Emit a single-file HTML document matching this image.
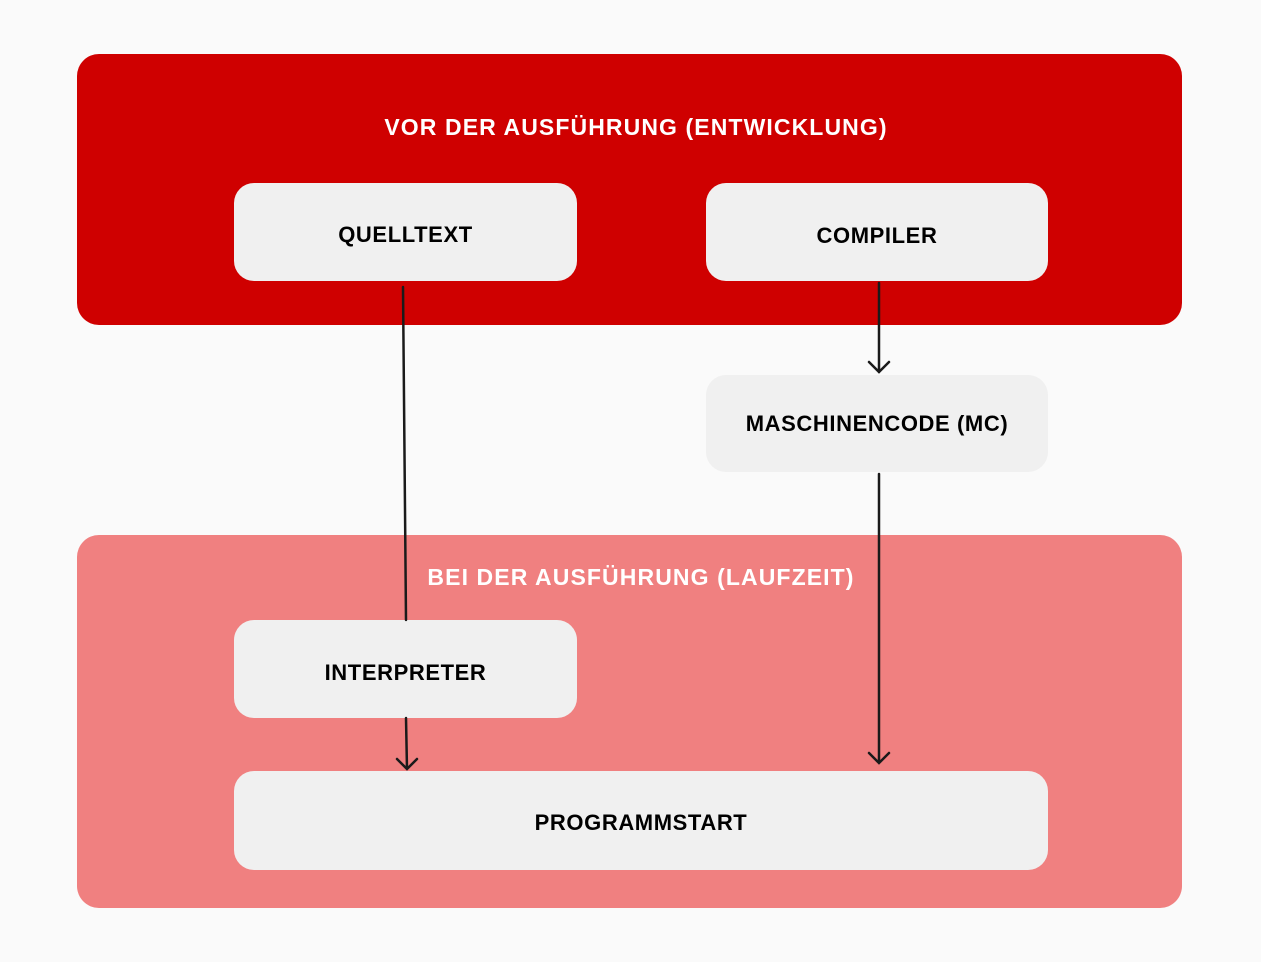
<!DOCTYPE html>
<html><head><meta charset="utf-8"><style>
html,body{margin:0;padding:0;background:#fafafa;}
body{width:1261px;height:962px;position:relative;overflow:hidden;font-family:"Liberation Sans",Arial,sans-serif;font-weight:bold;}
.c{position:absolute;border-radius:22px;}
.b{position:absolute;background:#f0f0f0;border-radius:20px;display:flex;align-items:center;justify-content:center;font-size:22px;color:#000;letter-spacing:0.6px;box-sizing:border-box;padding-top:6px;}
.t{position:absolute;left:0;width:100%;text-align:center;color:#fff;font-size:23px;letter-spacing:1.1px;}
svg{position:absolute;left:0;top:0;}
</style></head><body>
<div class="c" style="left:77px;top:54px;width:1105px;height:271px;background:#cf0000;"></div>
<div class="c" style="left:77px;top:535px;width:1105px;height:373px;background:#f08080;"></div>
<div class="t" style="top:114px;left:77px;width:1118px;">VOR DER AUSFÜHRUNG (ENTWICKLUNG)</div>
<div class="t" style="top:564px;left:77px;width:1128px;">BEI DER AUSFÜHRUNG (LAUFZEIT)</div>
<div class="b" style="left:234px;top:183px;width:343px;height:98px;">QUELLTEXT</div>
<div class="b" style="left:706px;top:183px;width:342px;height:98px;padding-top:8px;">COMPILER</div>
<div class="b" style="left:706px;top:375px;width:342px;height:97px;padding-top:0;">MASCHINENCODE (MC)</div>
<div class="b" style="left:234px;top:620px;width:343px;height:98px;padding-top:8px;">INTERPRETER</div>
<div class="b" style="left:234px;top:771px;width:814px;height:99px;padding-top:4px;">PROGRAMMSTART</div>
<svg width="1261" height="962" fill="none" stroke="#1a1a1a" stroke-width="2.5" stroke-linecap="round">
<path d="M403 287 L406 620"/>
<path d="M406 718 L407 769 M397 759 L407 769 L417 759"/>
<path d="M879 283 L879 372 M869 362 L879 372 L889 362"/>
<path d="M879 474 L879 763 M869 753 L879 763 L889 753"/>
</svg>
</body></html>
